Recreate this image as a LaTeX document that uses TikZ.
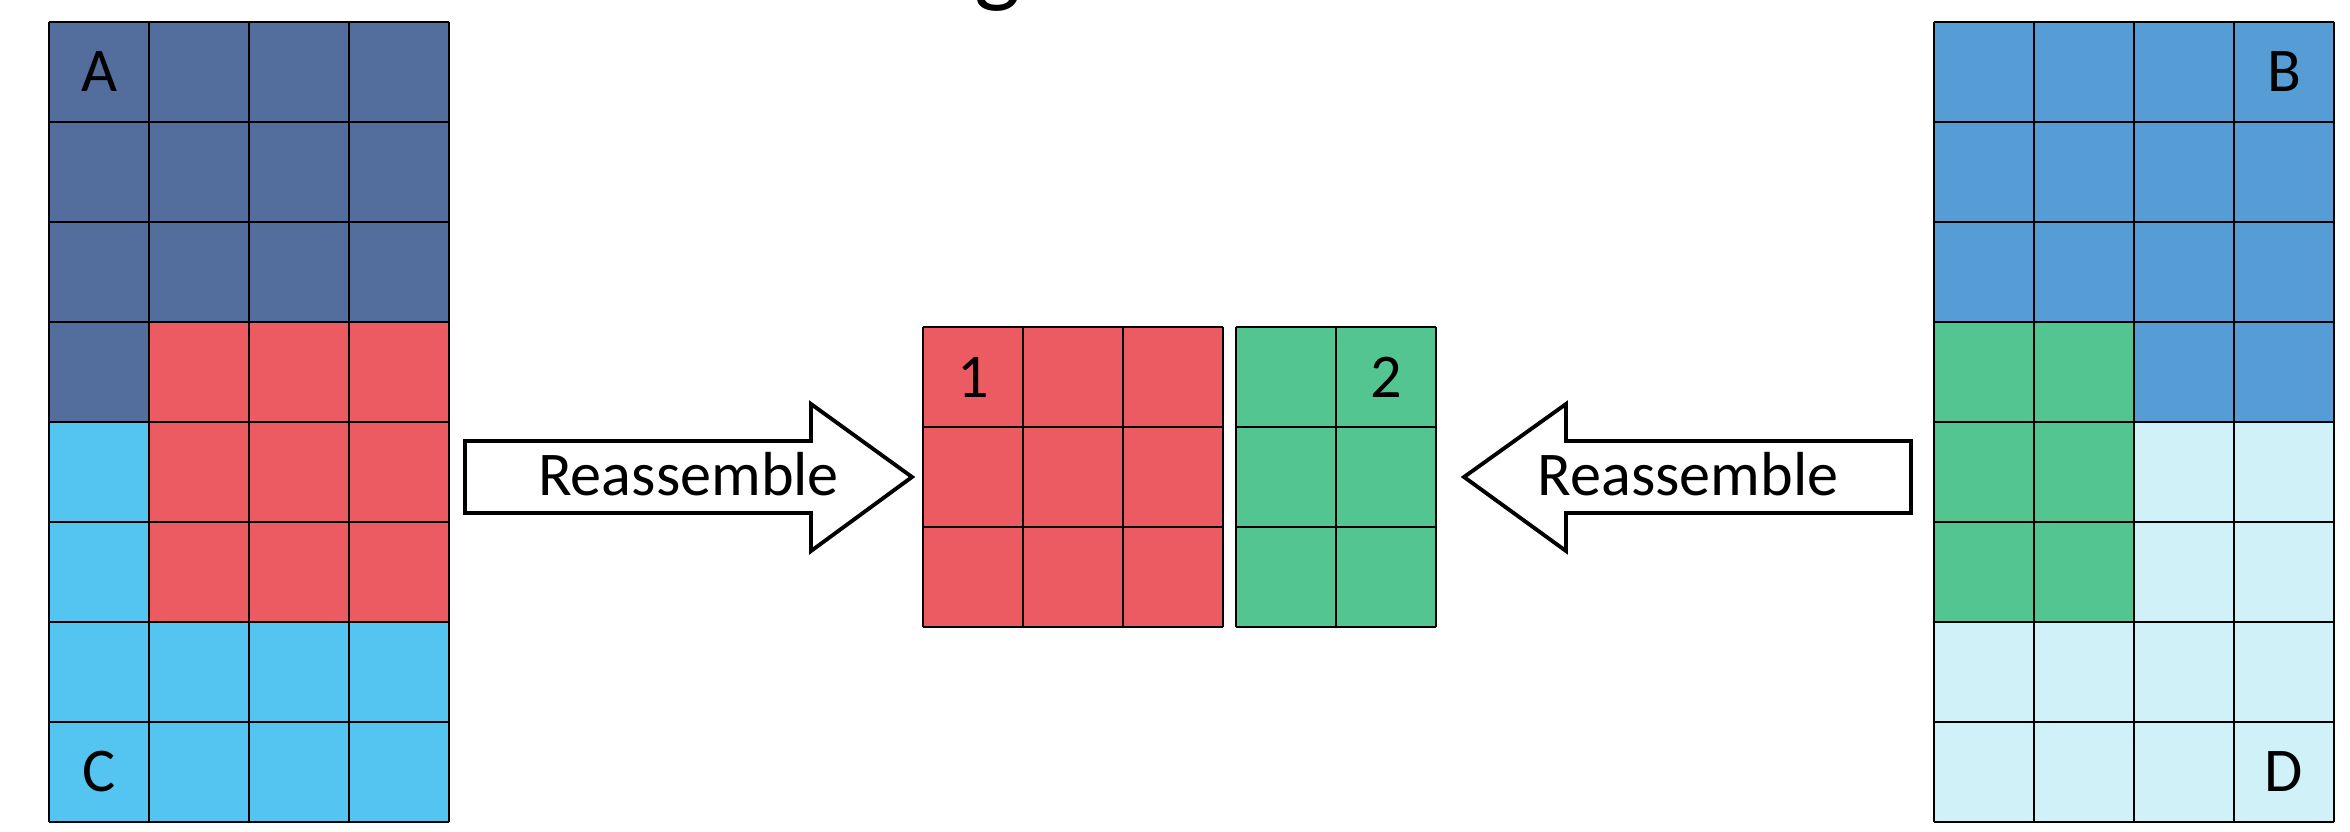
\documentclass[tikz,border=0pt]{standalone}
\usepackage{fontspec}
\setmainfont{Carlito}
\definecolor{navyblk}{RGB}{83,110,156}
\definecolor{redblk}{RGB}{236,91,97}
\definecolor{skyblk}{RGB}{84,196,240}
\definecolor{midblk}{RGB}{85,157,212}
\definecolor{greenblk}{RGB}{83,197,145}
\definecolor{paleblk}{RGB}{207,241,247}
\tikzset{
  gridline/.style={draw=black, line width=0.7pt},
  bigarrow/.style={draw=black, fill=white, line width=1.1pt, line join=miter},
  lbl/.style={inner sep=0pt, font=\fontsize{17.7}{21}\selectfont},
}
\begin{document}
\begin{tikzpicture}[x=1cm,y=1cm]
\useasboundingbox (0,0) rectangle (23.5,8.31);

% tail of the cropped heading
\node[anchor=base, inner sep=0pt, font=\fontsize{28}{30}\selectfont] (headtail) at (9.975,8.36) {g};

% ---- left block: A (top) / C (bottom) with red region ----
\fill[navyblk] (0.49,0.09) rectangle (4.49,8.09);
\fill[skyblk]  (0.49,0.09) rectangle (4.49,2.09);
\fill[skyblk]  (0.49,2.09) rectangle (1.49,4.09);
\fill[redblk]  (1.49,2.09) rectangle (4.49,5.09);
\foreach \i in {0,...,4} \draw[gridline] (0.49+\i,0.09) -- (0.49+\i,8.09);
\foreach \j in {0,...,8} \draw[gridline] (0.49,0.09+\j) -- (4.49,0.09+\j);
\node[lbl] (A) at (0.99,7.59) {A};
\node[lbl] (C) at (0.99,0.59) {C};

% ---- right block: B (top) / D (bottom) with green region ----
\fill[midblk]   (19.34,0.09) rectangle (23.34,8.09);
\fill[paleblk]  (19.34,0.09) rectangle (23.34,2.09);
\fill[paleblk]  (21.34,2.09) rectangle (23.34,4.09);
\fill[greenblk] (19.34,2.09) rectangle (21.34,5.09);
\foreach \i in {0,...,4} \draw[gridline] (19.34+\i,0.09) -- (19.34+\i,8.09);
\foreach \j in {0,...,8} \draw[gridline] (19.34,0.09+\j) -- (23.34,0.09+\j);
\node[lbl] (B) at (22.84,7.59) {B};
\node[lbl] (D) at (22.84,0.59) {D};

% ---- reassembled blocks in the middle ----
\fill[redblk] (9.23,2.04) rectangle (12.23,5.04);
\foreach \i in {0,...,3} \draw[gridline] (9.23+\i,2.04) -- (9.23+\i,5.04);
\foreach \j in {0,...,3} \draw[gridline] (9.23,2.04+\j) -- (12.23,2.04+\j);
\node[lbl] (one) at (9.73,4.54) {1};

\fill[greenblk] (12.36,2.04) rectangle (14.36,5.04);
\foreach \i in {0,...,2} \draw[gridline] (12.36+\i,2.04) -- (12.36+\i,5.04);
\foreach \j in {0,...,3} \draw[gridline] (12.36,2.04+\j) -- (14.36,2.04+\j);
\node[lbl] (two) at (13.86,4.54) {2};

% ---- block arrows ----
\draw[bigarrow] (4.65,3.18) -- (4.65,3.90) -- (8.11,3.90) -- (8.11,4.27)
  -- (9.12,3.54) -- (8.11,2.80) -- (8.11,3.18) -- cycle;
\node[lbl, anchor=base] (reL) at (6.885,3.36) {Reassemble};

\draw[bigarrow] (19.11,3.18) -- (19.11,3.90) -- (15.66,3.90) -- (15.66,4.27)
  -- (14.64,3.54) -- (15.66,2.80) -- (15.66,3.18) -- cycle;
\node[lbl, anchor=base] (reR) at (16.88,3.36) {Reassemble};
\end{tikzpicture}
\end{document}
